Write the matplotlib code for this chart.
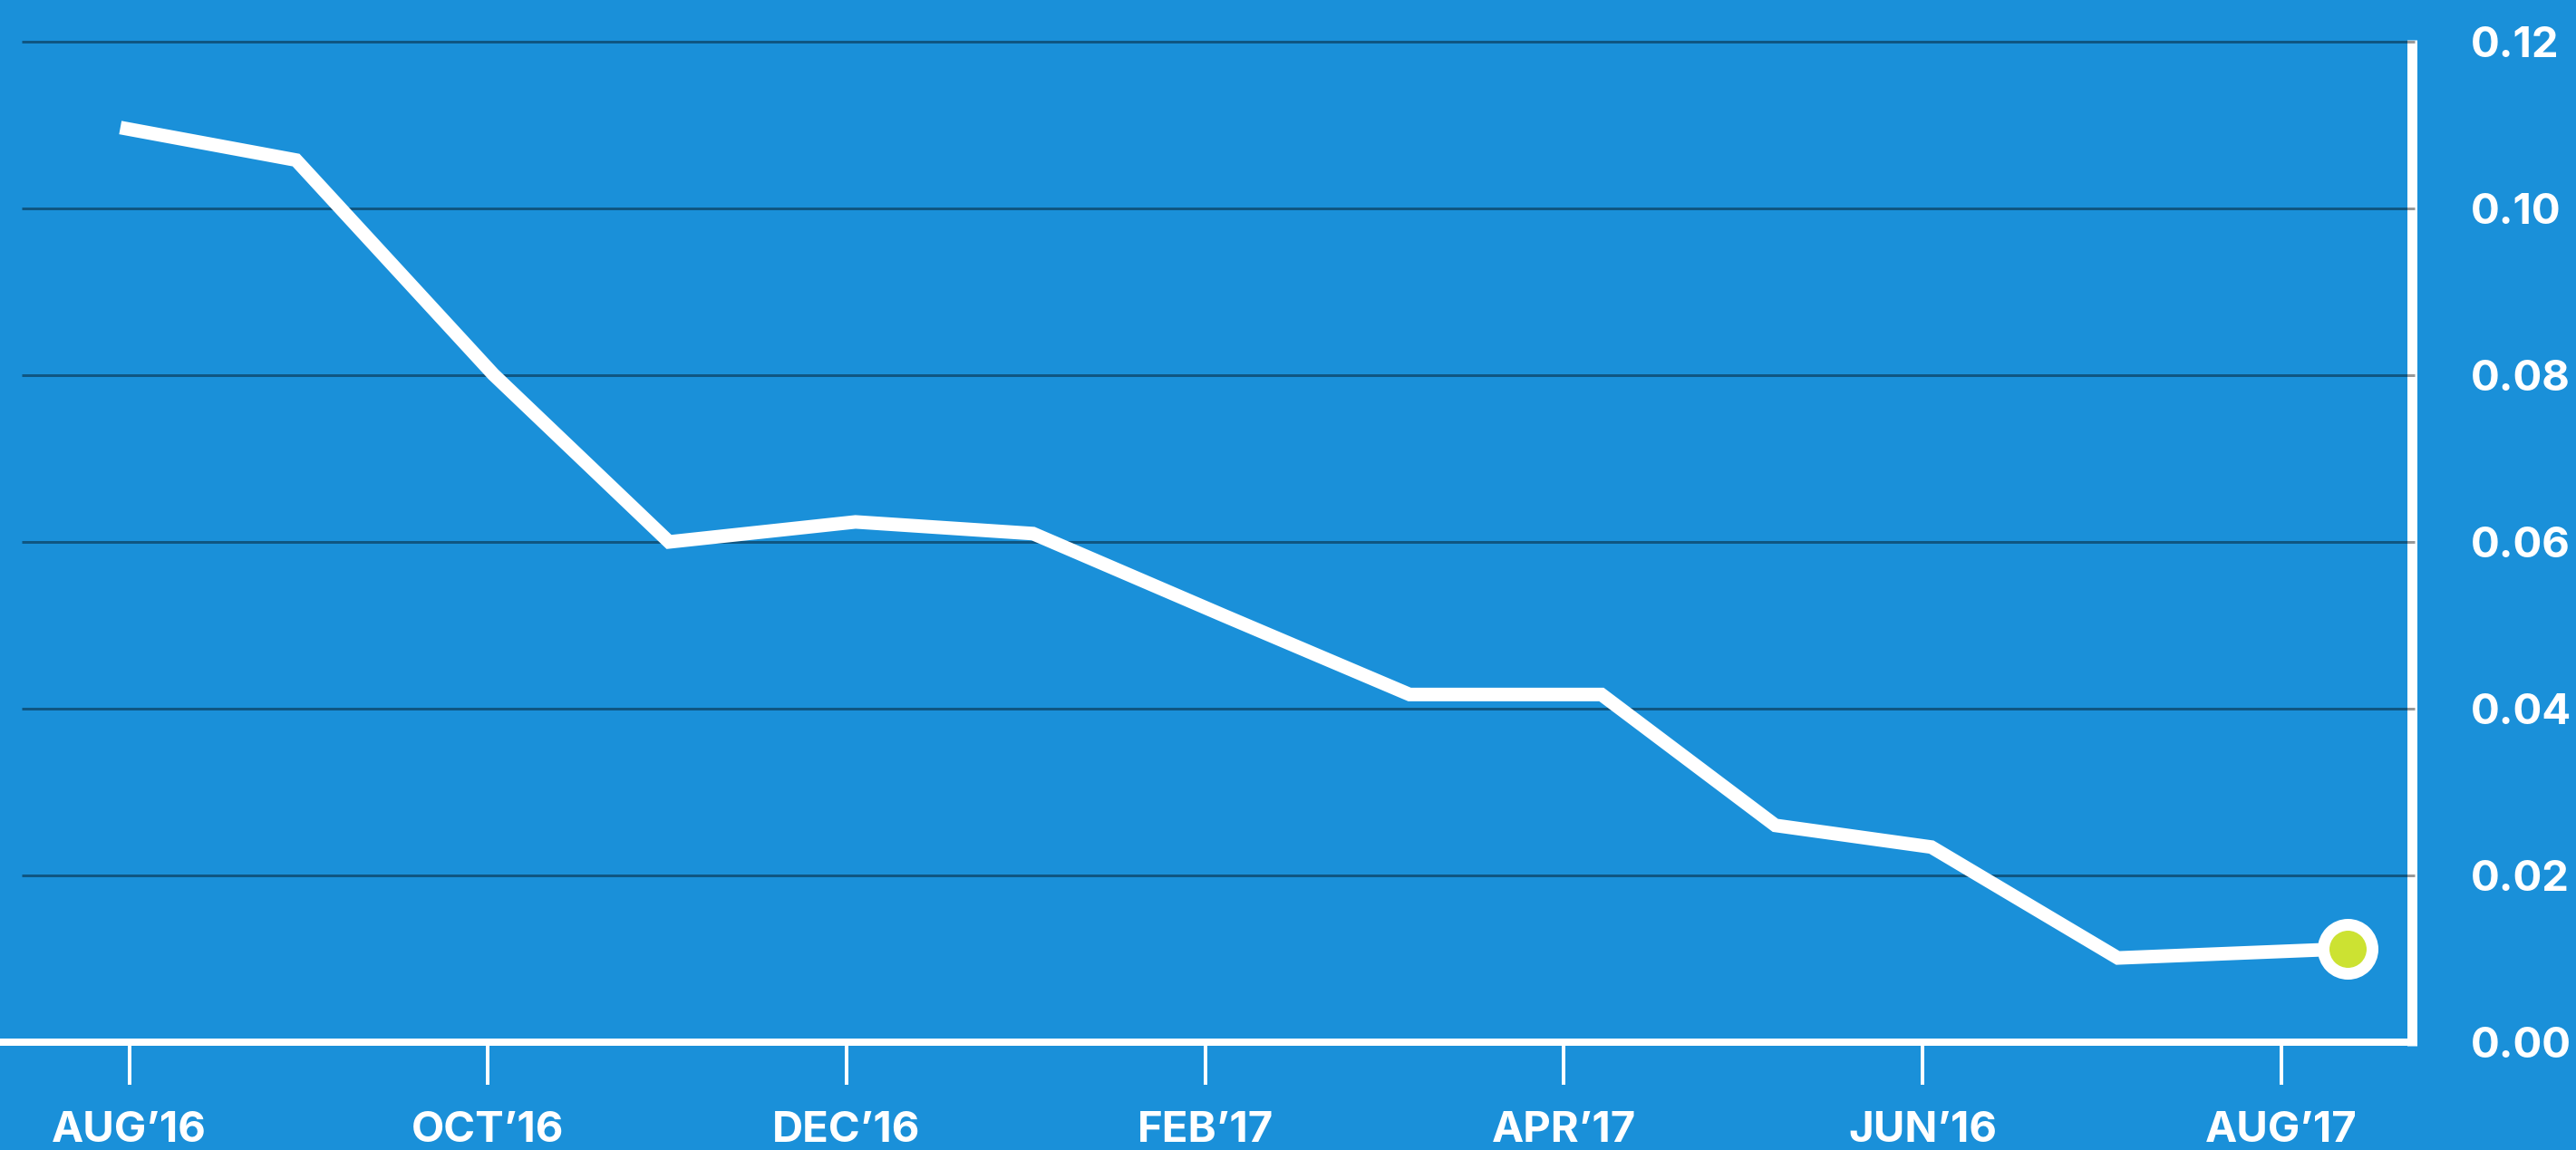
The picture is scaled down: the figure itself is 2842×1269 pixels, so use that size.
import matplotlib
matplotlib.use("Agg")
import matplotlib.pyplot as plt
from matplotlib.ticker import FixedLocator, FuncFormatter

# Months elapsed since Aug 2016 for each observation
months = [-0.05, 0.93, 2.03, 3.01, 4.05, 5.04, 6.10, 7.14, 8.21, 9.18, 10.05, 11.09, 12.37]
values = [0.1097, 0.1058, 0.0801, 0.0600, 0.0624, 0.0610, 0.0512, 0.0417, 0.0417,
          0.0260, 0.0234, 0.0101, 0.0112]

tick_months = [0, 2, 4, 6, 8, 10, 12]
tick_labels = ["AUG\u201916", "OCT\u201916", "DEC\u201916", "FEB\u201917",
               "APR\u201917", "JUN\u201916", "AUG\u201917"]
y_ticks = [0.00, 0.02, 0.04, 0.06, 0.08, 0.10, 0.12]

BG = "#1a90d9"
WHITE = "#ffffff"
LIME = "#cce232"
FAMILY = ["Inter", "DejaVu Sans"]
SIZE = 34

W, H, DPI = 2842, 1269, 100
fig = plt.figure(figsize=(W / DPI, H / DPI), dpi=DPI, facecolor=BG)
px = 72.0 / DPI  # points per pixel

left, right = 20 / W, 2661 / W
bottom, top = (H - 1150) / H, (H - 46) / H
ax = fig.add_axes([left, bottom, right - left, top - bottom])
ax.set_facecolor(BG)
ax.set_xlim(-0.62, 12.73)
ax.set_ylim(0, 0.12)

for s in ax.spines.values():
    s.set_visible(False)

# Axis frame: bottom and right white rules
ax.plot([-0.015, 1.002], [0, 0], transform=ax.transAxes, color=WHITE,
        lw=8 * px, solid_capstyle="butt", clip_on=False, zorder=1)
ax.plot([1.0, 1.0], [-0.004, 1.002], transform=ax.transAxes, color=WHITE,
        lw=11 * px, solid_capstyle="butt", clip_on=False, zorder=1)

# Translucent dark gridlines, drawn over the frame
for yv in y_ticks[1:]:
    ax.plot([-0.6, 12.745], [yv, yv], color="black", alpha=0.4,
            lw=3 * px, solid_capstyle="butt", clip_on=False, zorder=2)

# Data line and latest-point marker
ax.plot(months, values, color=WHITE, lw=15 * px, solid_joinstyle="miter",
        solid_capstyle="butt", clip_on=False, zorder=3)
ax.plot(months[-1], values[-1], marker="o", markersize=54 * px,
        markerfacecolor=LIME, markeredgecolor=WHITE, markeredgewidth=13 * px,
        clip_on=False, zorder=4)

font = dict(family=FAMILY, weight="bold", size=SIZE)

ax.xaxis.set_major_locator(FixedLocator(tick_months))
ax.set_xticklabels(tick_labels, fontdict=font, color=WHITE)
ax.tick_params(axis="x", direction="out", length=47 * px, width=4 * px,
               color=WHITE, pad=21)

ax.yaxis.tick_right()
ax.yaxis.set_major_locator(FixedLocator(y_ticks))
ax.yaxis.set_major_formatter(FuncFormatter(lambda v, p: f"{v:.2f}"))
for lab in ax.get_yticklabels():
    lab.set_fontfamily(FAMILY)
    lab.set_fontweight("bold")
    lab.set_fontsize(SIZE)
    lab.set_color(WHITE)
ax.tick_params(axis="y", length=0, pad=47)

fig.savefig("out.png", dpi=DPI, facecolor=BG)
